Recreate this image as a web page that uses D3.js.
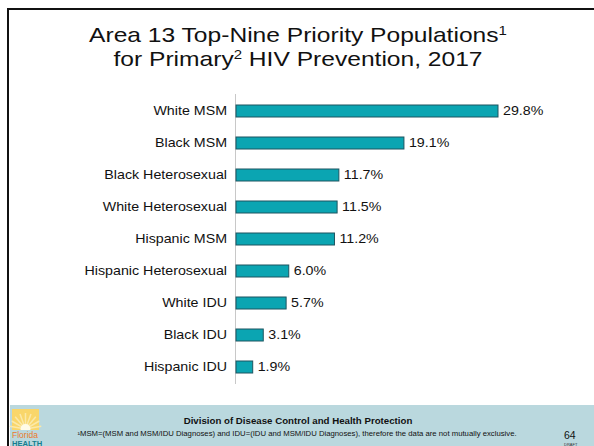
<!DOCTYPE html>
<html>
<head>
<meta charset="utf-8">
<script src="https://cdn.jsdelivr.net/npm/d3@7"></script>
<style>
  body { margin: 0; background: #fff; }
  svg { display: block; font-family: Arial, "Liberation Sans", sans-serif; }
</style>
</head>
<body>
<div id="chart"></div>
<script>
const categories = ['White MSM', 'Black MSM', 'Black Heterosexual', 'White Heterosexual',
  'Hispanic MSM', 'Hispanic Heterosexual', 'White IDU', 'Black IDU', 'Hispanic IDU'];
const percents = [29.8, 19.1, 11.7, 11.5, 11.2, 6.0, 5.7, 3.1, 1.9];

const width = 594, height = 446;
const margin = {top: 95, left: 236, bottom: 63};
// the slide text is drawn a bit wider than plain Arial
const stretch = 1.14;

const svg = d3.select('#chart').append('svg')
    .attr('width', width)
    .attr('height', height);

// slide frame
svg.append('rect').attr('x', 7).attr('y', 8).attr('width', width).attr('height', 2).attr('fill', '#111');
svg.append('rect').attr('x', 7).attr('y', 8).attr('width', 2).attr('height', height).attr('fill', '#111');

// title
const title = svg.append('g')
    .attr('transform', 'translate(298,0) scale(1.2,1)')
  .append('text')
    .attr('text-anchor', 'middle')
    .attr('font-size', 20.5)
    .attr('fill', '#111');
const t1 = title.append('tspan').attr('x', 0).attr('y', 42);
t1.append('tspan').text('Area 13 Top-Nine Priority Populations');
t1.append('tspan').attr('font-size', 12.5).attr('dy', -7).text('1');
const t2 = title.append('tspan').attr('x', 0).attr('y', 66.5);
t2.append('tspan').text('for Primary');
t2.append('tspan').attr('font-size', 12.5).attr('dy', -7).text('2');
t2.append('tspan').attr('dy', 7).text(' HIV Prevention, 2017');

const x = d3.scaleLinear()
    .domain([0, 29.8])
    .range([margin.left, 498]);

const y = d3.scaleBand()
    .domain(categories)
    .range([margin.top, 383])
    .paddingInner(0.625)
    .paddingOuter(0.3125);

// axis line
svg.append('line')
    .attr('x1', margin.left - 0.5).attr('x2', margin.left - 0.5)
    .attr('y1', 94).attr('y2', 384)
    .attr('stroke', '#c8c8c8').attr('stroke-width', 1);

svg.append('g')
  .selectAll('rect')
    .data(categories)
  .enter().append('rect')
    .attr('x', margin.left)
    .attr('y', d => y(d))
    .attr('width', (d, i) => x(percents[i]) - margin.left)
    .attr('height', y.bandwidth())
    .attr('fill', '#0ba5b2')
    .attr('stroke', '#1d5560')
    .attr('stroke-width', 1);

svg.append('g')
  .selectAll('g')
    .data(categories)
  .enter().append('g')
    .attr('transform', d => `translate(227,${y(d) + y.bandwidth() / 2}) scale(${stretch},1)`)
  .append('text')
    .attr('font-size', 12.5)
    .attr('fill', '#111')
    .attr('dy', '0.35em')
    .attr('text-anchor', 'end')
    .text(d => d);

svg.append('g')
  .selectAll('g')
    .data(percents)
  .enter().append('g')
    .attr('transform', (d, i) => `translate(${x(d) + 5},${y(categories[i]) + y.bandwidth() / 2}) scale(${stretch},1)`)
  .append('text')
    .attr('font-size', 12.5)
    .attr('fill', '#111')
    .attr('dy', '0.35em')
    .text(d => d.toFixed(1) + '%');

// footer
svg.append('rect')
    .attr('x', 10).attr('y', 405)
    .attr('width', width - 10).attr('height', height - 405)
    .attr('fill', '#bad8de');

const logo = svg.append('g').attr('transform', 'translate(12,409)');
logo.append('rect').attr('width', 27).attr('height', 37).attr('fill', '#f9d66a');
d3.range(-80, 81, 20).forEach(a => {
  const r = a * Math.PI / 180;
  logo.append('line')
      .attr('x1', 13.5).attr('y1', 20)
      .attr('x2', 13.5 + 16 * Math.sin(r)).attr('y2', 20 - 16 * Math.cos(r))
      .attr('stroke', '#fbe9a8').attr('stroke-width', 1.5);
});
logo.append('circle').attr('cx', 13.5).attr('cy', 20).attr('r', 5).attr('fill', '#fffbe8');
logo.append('rect').attr('y', 21).attr('width', 27).attr('height', 16).attr('fill', '#bad8de');
logo.append('text').attr('x', 0).attr('y', 28.5).attr('font-size', 8.5).attr('fill', '#ea7a2c').text('Florida');
logo.append('text').attr('x', 0).attr('y', 36.5).attr('font-size', 7.6).attr('font-weight', 'bold').attr('fill', '#137d8e').text('HEALTH');

svg.append('g')
    .attr('transform', `translate(298,424) scale(${stretch},1)`)
  .append('text')
    .attr('text-anchor', 'middle')
    .attr('font-size', 8.5).attr('font-weight', 'bold')
    .attr('fill', '#111')
    .text('Division of Disease Control and Health Protection');

svg.append('g')
    .attr('transform', 'translate(297,436) scale(1.21,1)')
  .append('text')
    .attr('text-anchor', 'middle')
    .attr('font-size', 6.4)
    .attr('fill', '#111')
    .text('¹MSM=(MSM and MSM/IDU Diagnoses) and IDU=(IDU and MSM/IDU Diagnoses), therefore the data are not mutually exclusive.');

svg.append('text')
    .attr('x', 564).attr('y', 439)
    .attr('font-size', 10.5)
    .attr('fill', '#111')
    .text('64');
svg.append('text')
    .attr('x', 564).attr('y', 445.5)
    .attr('font-size', 4)
    .attr('fill', '#333')
    .text('DRAFT');
</script>
</body>
</html>
